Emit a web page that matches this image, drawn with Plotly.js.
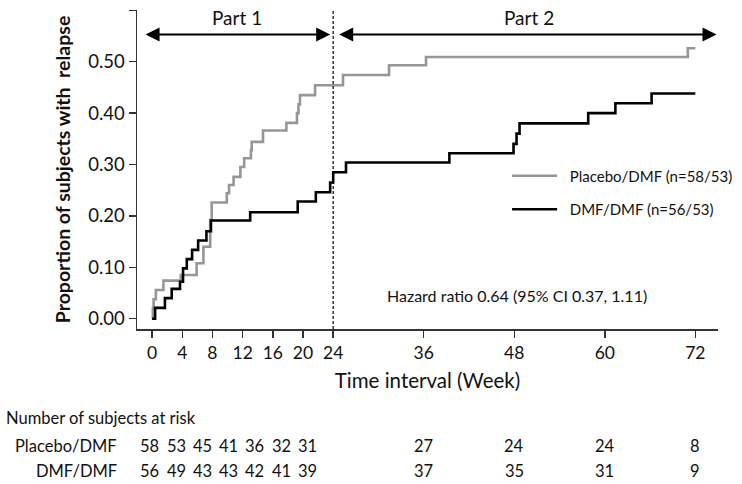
<!DOCTYPE html>
<html>
<head>
<meta charset="utf-8">
<script src="https://cdn.plot.ly/plotly-3.0.1.min.js"></script>
<style>
  html, body { margin: 0; padding: 0; background: #fff; }
  #chart { width: 742px; height: 484px; }
</style>
</head>
<body>
<div id="chart"></div>
<script>
// cumulative proportion with relapse
const placeboWeeks = [0, 0.1, 0.2, 0.5, 1.5, 3.8, 5.9, 6.8, 7.7, 7.9, 9.9, 10.2, 10.8, 11.7, 12.2, 13.1, 13.2, 14.7, 17.8, 19.2, 19.4, 19.6, 21.6, 25.3, 31.4, 36.3, 71.0, 72];
const placeboProp = [0, 0.02, 0.038, 0.056, 0.074, 0.085, 0.108, 0.14, 0.192, 0.226, 0.244, 0.26, 0.276, 0.295, 0.312, 0.328, 0.344, 0.366, 0.381, 0.40, 0.417, 0.435, 0.454, 0.474, 0.493, 0.509, 0.526, 0.526];
const dmfWeeks = [0, 0.4, 1.7, 2.6, 3.7, 4.1, 4.6, 5.3, 6.1, 7.2, 7.8, 13.0, 19.3, 21.7, 23.6, 24.0, 25.7, 39.4, 47.9, 48.3, 48.7, 57.8, 61.4, 66.2, 72];
const dmfProp = [0, 0.021, 0.040, 0.058, 0.072, 0.098, 0.116, 0.134, 0.152, 0.170, 0.191, 0.207, 0.228, 0.246, 0.265, 0.285, 0.304, 0.322, 0.340, 0.36, 0.380, 0.40, 0.419, 0.438, 0.438];

const tickWeeks = [0, 4, 8, 12, 16, 20, 24, 36, 48, 60, 72];
const yTicks = [0, 0.1, 0.2, 0.3, 0.4, 0.5, 0.6];

// number of subjects at risk
const riskWeeks = [0, 4, 8, 12, 16, 20, 24, 36, 48, 60, 72];
const riskPlacebo = [58, 53, 45, 41, 36, 32, 31, 27, 24, 24, 8];
const riskDmf = [56, 49, 43, 43, 42, 41, 39, 37, 35, 31, 9];

const FONT = 'Lato, "Open Sans", sans-serif';
const INK = '#111';

// the original table squeezes the part 1 columns a bit
const colX = w => (w <= 24 ? -0.3 + w * 0.87 : w);
// plot area spans 10..329 px, rows below it are given in px
const pxToPaper = py => -(py - 329.3) / 319.3;

var traces = [
  {
    x: placeboWeeks, y: placeboProp,
    type: 'scatter', mode: 'lines',
    line: { shape: 'hv', color: '#969696', width: 2.6 },
    name: '\u00a0 Placebo/DMF (n=58/53)', legendgroup: 'a'
  },
  {
    x: dmfWeeks, y: dmfProp,
    type: 'scatter', mode: 'lines',
    line: { shape: 'hv', color: '#000', width: 2.6 },
    name: '\u00a0 DMF/DMF (n=56/53)', legendgroup: 'b'
  }
];

var annotations = [];

// part arrows
function arrow(x0, x1, y) {
  annotations.push({
    x: x1, y: y, ax: x0, ay: y, axref: 'x', ayref: 'y', xref: 'x', yref: 'y',
    text: '', showarrow: true, arrowside: 'end+start', arrowhead: 2,
    arrowsize: 1.4, arrowwidth: 2, arrowcolor: '#000', standoff: 0, startstandoff: 0
  });
}
arrow(-1.06, 23.6, 0.553);
arrow(24.6, 74.8, 0.553);
annotations.push({ x: 11.3, y: 0.585, xref: 'x', yref: 'y', text: 'Part 1', showarrow: false, font: { family: FONT, size: 19, color: INK } });
annotations.push({ x: 50, y: 0.585, xref: 'x', yref: 'y', text: 'Part 2', showarrow: false, font: { family: FONT, size: 19, color: INK } });

annotations.push({
  x: 30.9, y: 0.045, xref: 'x', yref: 'y', xanchor: 'left',
  text: 'Hazard ratio 0.64 (95% CI 0.37, 1.11)', showarrow: false,
  font: { family: FONT, size: 16, color: INK }
});

// at-risk table
annotations.push({ x: (4 - 137) / 581, y: pxToPaper(418), xref: 'paper', yref: 'paper',
  xanchor: 'left', yanchor: 'middle',
  text: 'Number of subjects at risk', showarrow: false, font: { family: FONT, size: 16.5, color: INK } });
const rowY = [446, 471];
const rowNames = ['Placebo/DMF', 'DMF/DMF'];
[riskPlacebo, riskDmf].forEach((row, r) => {
  annotations.push({ x: (119 - 137) / 581, y: pxToPaper(rowY[r]), xref: 'paper', yref: 'paper',
    xanchor: 'right', yanchor: 'middle',
    text: rowNames[r], showarrow: false, font: { family: FONT, size: 16.5, color: INK } });
  row.forEach((n, i) => {
    annotations.push({ x: colX(riskWeeks[i]), y: pxToPaper(rowY[r]), xref: 'x', yref: 'paper',
      xanchor: 'center', yanchor: 'middle',
      text: String(n), showarrow: false, font: { family: FONT, size: 16.5, color: INK } });
  });
});

var layout = {
  width: 742, height: 484,
  margin: { l: 137, r: 24, t: 10, b: 155, autoexpand: false },
  paper_bgcolor: '#fff', plot_bgcolor: '#fff',
  font: { family: FONT, size: 15, color: INK },
  showlegend: true,
  legend: {
    x: 0.637, y: 0.428, xanchor: 'left', yanchor: 'middle',
    font: { family: FONT, size: 15, color: INK },
    itemwidth: 45, tracegroupgap: 11, bgcolor: 'rgba(0,0,0,0)'
  },
  xaxis: {
    range: [-2, 75], tickvals: tickWeeks, ticktext: tickWeeks.map(String),
    showline: true, linecolor: '#333', linewidth: 1.5,
    ticks: 'outside', ticklen: 7, tickcolor: '#333', tickwidth: 1.5,
    showgrid: false, zeroline: false, automargin: false,
    tickfont: { family: FONT, size: 17.5, color: INK },
    title: { text: 'Time interval (Week)', font: { family: FONT, size: 20.5, color: INK }, standoff: 12 }
  },
  yaxis: {
    range: [-0.02, 0.6005], tickvals: yTicks, tickformat: '.2f',
    showline: true, linecolor: '#333', linewidth: 1.5,
    ticks: 'outside', ticklen: 7, tickcolor: '#333', tickwidth: 1.5,
    showgrid: false, zeroline: false, automargin: false,
    tickfont: { family: FONT, size: 18.5, color: INK },
    title: { text: '<b>Proportion of subjects with\u00a0 relapse</b>', font: { family: FONT, size: 19.5, color: INK }, standoff: 12 }
  },
  shapes: [
    { type: 'line', xref: 'x', yref: 'paper', x0: 24, x1: 24, y0: 0, y1: 1,
      line: { color: '#000', width: 1.2, dash: '3px,2px' } }
  ],
  annotations: annotations
};

Plotly.newPlot('chart', traces, layout, { displayModeBar: false, staticPlot: true });
</script>
</body>
</html>
